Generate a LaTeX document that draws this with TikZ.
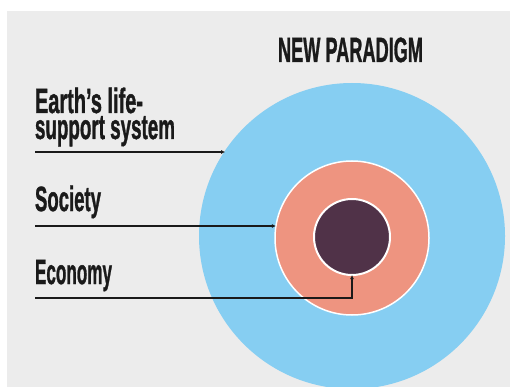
\documentclass[tikz,border=0pt]{standalone}
\usepackage{fontspec}
\setmainfont{Liberation Sans}
\newfontfamily\heavy{Liberation Sans Bold}[FakeBold=1.4]
\usetikzlibrary{arrows.meta}
\definecolor{bgc}{RGB}{236,236,236}
\definecolor{skyc}{RGB}{134,206,242}
\definecolor{salmonc}{RGB}{238,148,128}
\definecolor{darkc}{RGB}{80,50,72}
\definecolor{ink}{RGB}{26,26,26}
\newcommand\cw[2]{\resizebox{#1}{\height}{#2}}
\begin{document}
\begin{tikzpicture}[x=1pt,y=-1pt,
  lbl/.style={inner sep=0pt, outer sep=0pt, anchor=base west, text=ink,
    font=\heavy\fontsize{35}{26}\selectfont},
  ring/.style={circle, inner sep=0pt, outer sep=0pt},
  conn/.style={draw=ink, line width=1.3pt, -{Latex[length=4pt,width=4pt]}}]
\useasboundingbox (0,0) rectangle (510,387);
\fill[white] (0,0) rectangle (510,387);
\fill[bgc] (7,11) rectangle (510,387);
\begin{scope}
  \clip (7,11) rectangle (510,387);
  \node[ring, fill=skyc, minimum size=306pt] (blue) at (352,236) {};
\end{scope}
\node[ring, fill=salmonc, draw=white, line width=1.5pt, minimum size=154pt] (soc) at (352,238) {};
\node[ring, fill=darkc, draw=white, line width=2pt, minimum size=76pt] (eco) at (352,237) {};
\node[lbl, anchor=base, font=\heavy\fontsize{35}{35}\selectfont] (title) at (350.5,62) {\cw{145pt}{NEW PARADIGM}};
\node[lbl] (earth) at (35,113) {\vtop{\hbox{\cw{108pt}{Earth’s life-}}\hbox{\cw{140pt}{support system}}}};
\node[lbl] (society) at (35,211) {\cw{66pt}{Society}};
\node[lbl] (economy) at (35,284) {\cw{77pt}{Economy}};
\coordinate (s1) at (35,152);
\coordinate (s2) at (35,226);
\coordinate (s3) at (35,298);
\draw[conn] (s1) -- (s1 -| blue.146.7);
\draw[conn] (s2) -- (s2 -| soc.171);
\draw[conn] (s3) -| (eco.south);
\end{tikzpicture}
\end{document}
